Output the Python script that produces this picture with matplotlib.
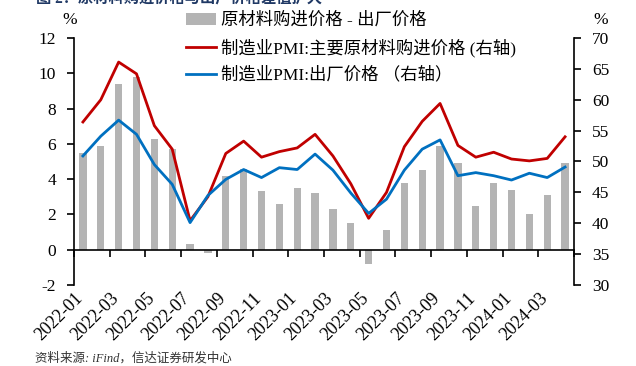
import matplotlib

matplotlib.use("Agg")
import matplotlib.pyplot as plt
import numpy as np
import pandas as pd

# monthly categories, 2022-01 .. 2024-04
months = [str(p) for p in pd.period_range("2022-01", "2024-04", freq="M")]

# left axis: purchase price minus factory price (pct points)
spread = [5.5, 5.9, 9.4, 9.8, 6.3, 5.7, 0.3, -0.2, 4.2, 4.6, 3.3, 2.6, 3.5, 3.2,
          2.3, 1.5, -0.8, 1.1, 3.8, 4.5, 5.9, 4.9, 2.5, 3.8, 3.4, 2.0, 3.1, 4.9]

# right axis: PMI sub-indices
purchase = [56.4, 60.0, 66.1, 64.2, 55.8, 52.0, 40.4, 44.3, 51.3, 53.3, 50.7, 51.6, 52.2, 54.4,
            50.9, 46.4, 40.8, 45.0, 52.4, 56.5, 59.4, 52.6, 50.7, 51.5, 50.4, 50.1, 50.5, 54.0]
output = [50.9, 54.1, 56.7, 54.4, 49.5, 46.3, 40.1, 44.5, 47.1, 48.7, 47.4, 49.0, 48.7, 51.2,
          48.6, 44.9, 41.6, 43.9, 48.6, 52.0, 53.5, 47.7, 48.2, 47.7, 47.0, 48.1, 47.4, 49.1]

labels = ["原材料购进价格 - 出厂价格",
          "制造业PMI:主要原材料购进价格 (右轴)",
          "制造业PMI:出厂价格 （右轴）"]

plt.rcParams["font.family"] = ["Liberation Serif", "Noto Sans CJK SC"]
plt.rcParams["axes.unicode_minus"] = False

fig = plt.figure(figsize=(6.36, 3.66), dpi=100)
ax = fig.add_axes([74 / 636, 1 - 285 / 366, 500 / 636, 247 / 366])
ax2 = ax.twinx()

x = np.arange(len(months))
bars = ax.bar(x, spread, width=0.41, color="#b4b4b4", zorder=2)
(l1,) = ax2.plot(x, purchase, color="#c00000", lw=2.0, zorder=3)
(l2,) = ax2.plot(x, output, color="#0070c0", lw=2.0, zorder=3)

ax.set_xlim(-0.5, len(months) - 0.5)
ax.set_ylim(-2, 12)
ax.set_yticks(range(-2, 13, 2))
ax2.set_ylim(30, 70)
ax2.set_yticks(range(30, 71, 5))

for a in (ax, ax2):
    a.spines["top"].set_visible(False)
ax.spines["right"].set_visible(False)
ax2.spines["bottom"].set_visible(False)
ax2.spines["left"].set_visible(False)
ax.spines["bottom"].set_position(("data", 0))
for s in ("left", "bottom"):
    ax.spines[s].set_linewidth(1.2)
ax2.spines["right"].set_linewidth(1.2)

ax.set_xticks(np.arange(-0.5, len(months), 2))
ax.tick_params(axis="x", direction="out", length=5, width=1.2, labelbottom=False)
ax.tick_params(axis="y", direction="out", length=5, width=1.2, labelsize=12.5, pad=8)
ax2.tick_params(axis="y", direction="out", length=5, width=1.2, labelsize=12.5, pad=8)

# category labels sit below the plot, not on the zero line
trans = ax.get_xaxis_transform()
for i in range(0, len(months), 2):
    ax.text(i + 0.2, -0.02, months[i], transform=trans, rotation=45,
            ha="right", va="top", fontsize=13)

fig.text(70 / 636, 1 - 20 / 366, "%", fontsize=12.5, ha="center", va="center")
fig.text(601 / 636, 1 - 20 / 366, "%", fontsize=12.5, ha="center", va="center")

fig.legend([bars, l1, l2], labels, loc="upper left",
           bbox_to_anchor=(177 / 636, 1 - 4 / 366), frameon=False,
           fontsize=12.5, borderpad=0, labelspacing=0.55,
           handlelength=1.75, handletextpad=0.3)

fig.text(36 / 636, 1 - 6 / 366, "图 2：原材料购进价格与出厂价格差值扩大",
         fontsize=11, color="#1f3864", fontweight="bold", va="bottom")
fig.text(35 / 636, 1 - 358 / 366, "资料来源: iFind，信达证券研发中心",
         fontsize=9, color="#333333", style="italic", va="center")

fig.savefig("out.png", dpi=100)
